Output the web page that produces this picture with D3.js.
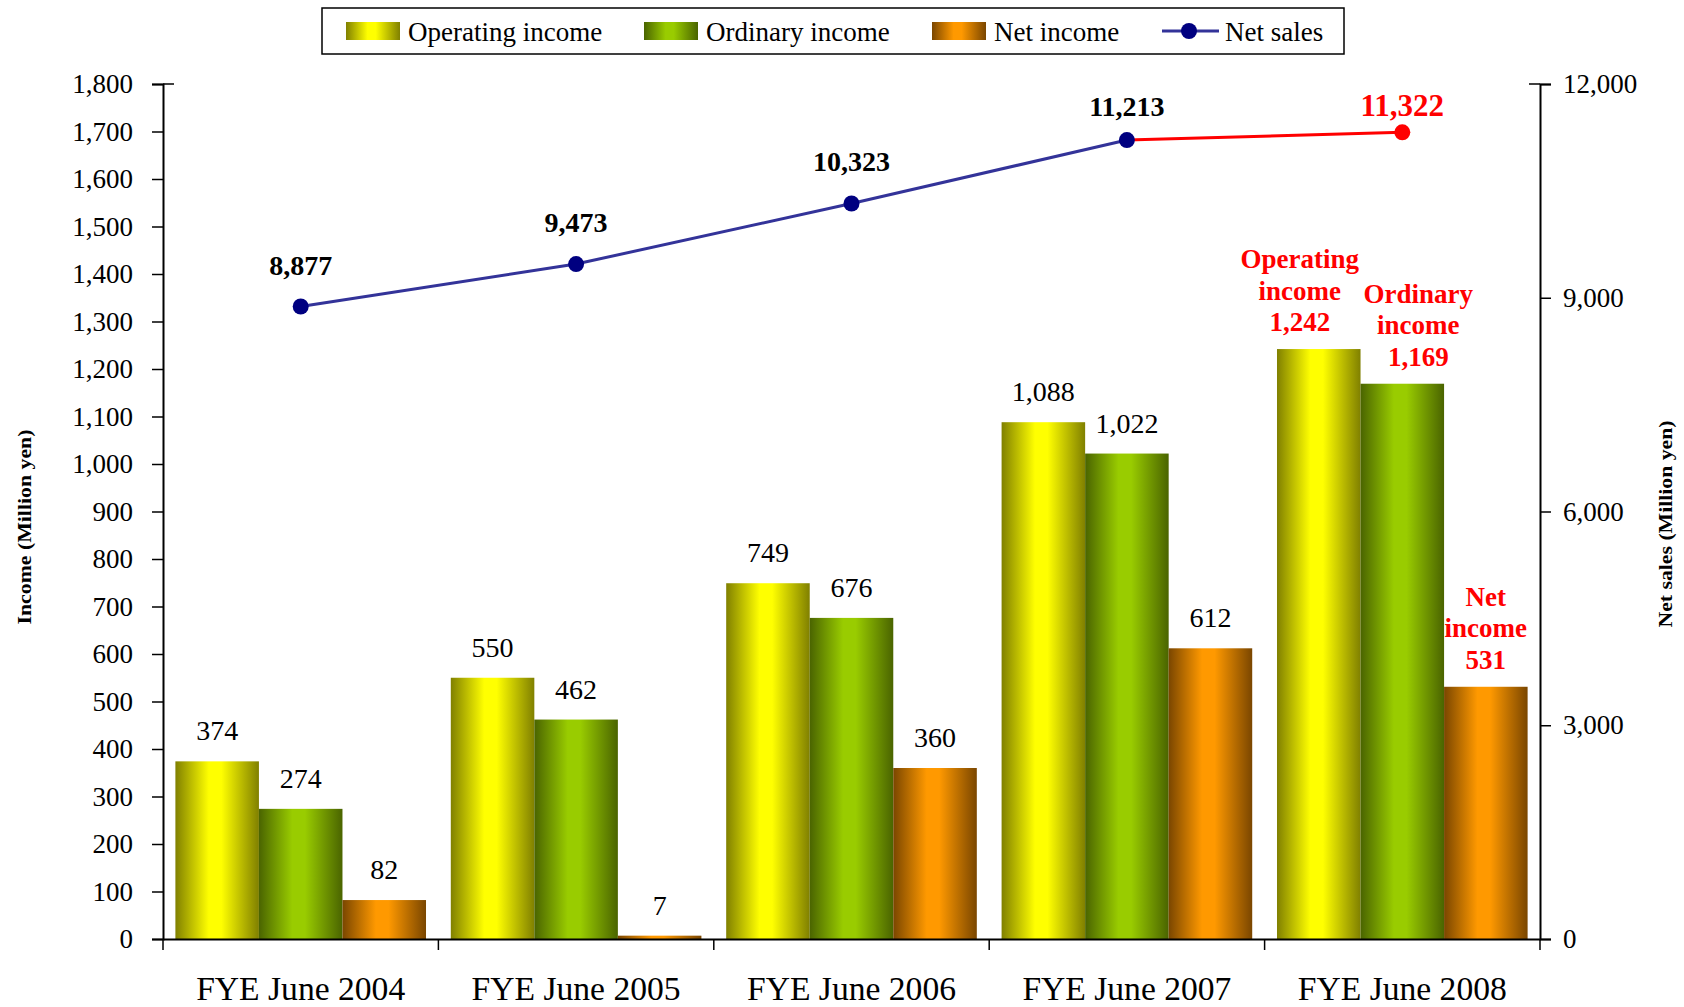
<!DOCTYPE html>
<html>
<head>
<meta charset="utf-8">
<script src="https://cdn.jsdelivr.net/npm/d3@7"></script>
<style>
  body { margin: 0; background: #fff; }
  svg { display: block; font-family: "Liberation Serif", "Times New Roman", serif; }
</style>
</head>
<body>
<svg id="chart" width="1684" height="1007"></svg>
<script>
// Data
const years = ["FYE June 2004", "FYE June 2005", "FYE June 2006", "FYE June 2007", "FYE June 2008"];
const seriesNames = ["Operating income", "Ordinary income", "Net income"];
const operatingIncome = [374, 550, 749, 1088, 1242];
const ordinaryIncome = [274, 462, 676, 1022, 1169];
const netIncome = [82, 7, 360, 612, 531];
const netSales = [8877, 9473, 10323, 11213, 11322];
const leftTicks = [0, 100, 200, 300, 400, 500, 600, 700, 800, 900, 1000, 1100, 1200, 1300, 1400, 1500, 1600, 1700, 1800];
const rightTicks = [0, 3000, 6000, 9000, 12000];

const svg = d3.select("#chart");
const plotL = 163, plotR = 1540, plotT = 84, plotB = 939;
const fmt = d3.format(",");

// gradients: dark edges, bright middle
const grads = [
  {id: "gOp", dark: "#808000", mid: "#ffff00"},
  {id: "gOrd", dark: "#4a6400", mid: "#99cc00"},
  {id: "gNet", dark: "#7a4600", mid: "#ff9900"}
];
const defs = svg.append("defs");
grads.forEach(g => {
  const lg = defs.append("linearGradient").attr("id", g.id)
    .attr("x1", 0).attr("x2", 1).attr("y1", 0).attr("y2", 0);
  lg.append("stop").attr("offset", "0%").attr("stop-color", g.dark);
  lg.append("stop").attr("offset", "40%").attr("stop-color", g.mid);
  lg.append("stop").attr("offset", "55%").attr("stop-color", g.mid);
  lg.append("stop").attr("offset", "100%").attr("stop-color", g.dark);
});

const x0 = d3.scaleBand().domain(years).range([plotL, plotR]).paddingInner(0.09).paddingOuter(0.045);
const x1 = d3.scaleBand().domain(seriesNames).range([0, x0.bandwidth()]);
const y = d3.scaleLinear().domain([0, 1800]).range([plotB, plotT]);
const yR = d3.scaleLinear().domain([0, 12000]).range([plotB, plotT]);

const values = [operatingIncome, ordinaryIncome, netIncome];
const barData = [];
years.forEach((yr, i) => {
  seriesNames.forEach((s, j) => {
    barData.push({year: yr, i: i, series: s, j: j, value: values[j][i]});
  });
});

// bars
svg.append("g").selectAll("rect")
  .data(barData)
  .enter().append("rect")
  .attr("x", d => x0(d.year) + x1(d.series))
  .attr("y", d => y(d.value))
  .attr("width", x1.bandwidth())
  .attr("height", d => plotB - y(d.value))
  .attr("fill", d => `url(#${grads[d.j].id})`);

// value labels (last year is annotated in red)
svg.append("g").selectAll("text")
  .data(barData.filter(d => d.i < years.length - 1))
  .enter().append("text")
  .attr("x", d => x0(d.year) + x1(d.series) + x1.bandwidth() / 2)
  .attr("y", d => y(d.value) - 21)
  .attr("text-anchor", "middle")
  .attr("font-size", 28)
  .text(d => fmt(d.value));

const redShift = [-19, 16, 0];
barData.filter(d => d.i === years.length - 1).forEach(d => {
  const words = d.series.split(" ");
  const lines = [words[0], words[1], fmt(d.value)];
  const cx = x0(d.year) + x1(d.series) + x1.bandwidth() / 2 + redShift[d.j];
  const base = y(d.value) - 18;
  svg.append("text")
    .attr("x", cx).attr("y", base - 2 * 31.5)
    .attr("text-anchor", "middle")
    .attr("font-size", 27).attr("font-weight", "bold").attr("fill", "#ff0000")
    .selectAll("tspan").data(lines).enter().append("tspan")
    .attr("x", cx).attr("dy", (t, k) => k === 0 ? 0 : 31.5)
    .text(t => t);
});

// axes
const axL = svg.append("g").attr("transform", `translate(${plotL},0)`)
  .call(d3.axisLeft(y).tickValues(leftTicks).tickSize(11).tickFormat(fmt));
const axR = svg.append("g").attr("transform", `translate(${plotR},0)`)
  .call(d3.axisRight(yR).tickValues(rightTicks).tickSize(11).tickFormat(fmt));
const axB = svg.append("g").attr("transform", `translate(0,${plotB})`)
  .call(d3.axisBottom(x0).tickSize(0).tickFormat(""));

[axL, axR, axB].forEach(a => {
  a.attr("font-family", null);
  a.select(".domain").attr("stroke", "#000").attr("stroke-width", 2);
  a.selectAll(".tick line").attr("stroke", "#000").attr("stroke-width", 1.5);
});
axL.selectAll(".tick text").attr("font-size", 27).attr("fill", "#000").attr("x", -30);
axR.selectAll(".tick text").attr("font-size", 27).attr("fill", "#000").attr("x", 23);

// top ticks cross into the plot
svg.append("line").attr("x1", plotL).attr("x2", plotL + 11).attr("y1", plotT).attr("y2", plotT)
  .attr("stroke", "#000").attr("stroke-width", 1.5);
svg.append("line").attr("x1", plotR - 11).attr("x2", plotR).attr("y1", plotT).attr("y2", plotT)
  .attr("stroke", "#000").attr("stroke-width", 1.5);

// category boundary ticks and labels
const step = x0.step();
svg.append("g").selectAll("line")
  .data(d3.range(years.length + 1))
  .enter().append("line")
  .attr("x1", k => plotL + k * step).attr("x2", k => plotL + k * step)
  .attr("y1", plotB).attr("y2", plotB + 11)
  .attr("stroke", "#000").attr("stroke-width", 1.5);
svg.append("g").selectAll("text")
  .data(years)
  .enter().append("text")
  .attr("x", d => x0(d) + x0.bandwidth() / 2)
  .attr("y", 1000)
  .attr("text-anchor", "middle")
  .attr("font-size", 34)
  .attr("textLength", 209).attr("lengthAdjust", "spacingAndGlyphs")
  .text(d => d);

// axis titles
svg.append("text")
  .attr("transform", "translate(31,527) rotate(-90)")
  .attr("text-anchor", "middle").attr("font-size", 19).attr("font-weight", "bold")
  .attr("textLength", 195).attr("lengthAdjust", "spacingAndGlyphs")
  .text("Income (Million yen)");
svg.append("text")
  .attr("transform", "translate(1672,524) rotate(-90)")
  .attr("text-anchor", "middle").attr("font-size", 19).attr("font-weight", "bold")
  .attr("textLength", 207).attr("lengthAdjust", "spacingAndGlyphs")
  .text("Net sales (Million yen)");

// net sales line
const pts = netSales.map((v, i) => ({x: x0(years[i]) + x0.bandwidth() / 2, y: yR(v), v: v, i: i}));
const line = d3.line().x(d => d.x).y(d => d.y);
const n = pts.length;
svg.append("path").datum(pts.slice(0, n - 1))
  .attr("d", line).attr("fill", "none").attr("stroke", "#333399").attr("stroke-width", 3);
svg.append("path").datum(pts.slice(n - 2))
  .attr("d", line).attr("fill", "none").attr("stroke", "#ff0000").attr("stroke-width", 3);
svg.append("g").selectAll("circle")
  .data(pts)
  .enter().append("circle")
  .attr("cx", d => d.x).attr("cy", d => d.y).attr("r", 8)
  .attr("fill", d => d.i === n - 1 ? "#ff0000" : "#000080");
svg.append("g").selectAll("text")
  .data(pts)
  .enter().append("text")
  .attr("x", d => d.x)
  .attr("y", d => Math.max(d.y - 32, 116))
  .attr("text-anchor", "middle")
  .attr("font-weight", "bold")
  .attr("font-size", d => d.i === n - 1 ? 31 : 28)
  .attr("fill", d => d.i === n - 1 ? "#ff0000" : "#000")
  .text(d => fmt(d.v));

// legend
const lg = svg.append("g");
lg.append("rect").attr("x", 322).attr("y", 8).attr("width", 1022).attr("height", 46)
  .attr("fill", "#fff").attr("stroke", "#000").attr("stroke-width", 1.5);
const legendX = [346, 644, 932];
seriesNames.forEach((s, j) => {
  lg.append("rect").attr("x", legendX[j]).attr("y", 22).attr("width", 54).attr("height", 18)
    .attr("fill", `url(#${grads[j].id})`);
  lg.append("text").attr("x", legendX[j] + 62).attr("y", 41).attr("font-size", 27).text(s);
});
lg.append("line").attr("x1", 1162).attr("x2", 1219).attr("y1", 31).attr("y2", 31)
  .attr("stroke", "#333399").attr("stroke-width", 3);
lg.append("circle").attr("cx", 1189).attr("cy", 31).attr("r", 8).attr("fill", "#000080");
lg.append("text").attr("x", 1225).attr("y", 41).attr("font-size", 27).text("Net sales");
</script>
</body>
</html>
